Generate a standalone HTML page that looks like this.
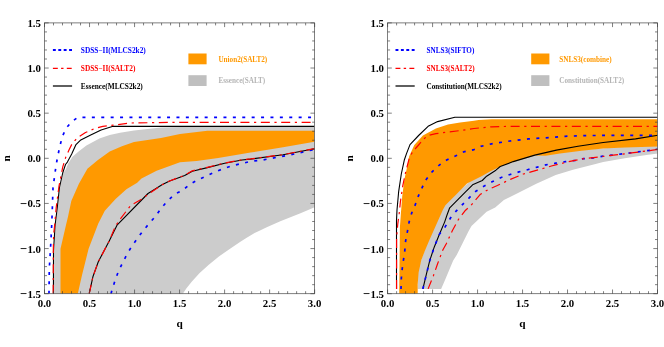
<!DOCTYPE html>
<html><head><meta charset="utf-8"><title>plot</title>
<style>html,body{margin:0;padding:0;background:#fff;}body{width:664px;height:347px;position:relative;overflow:hidden;}</style>
</head><body>
<svg width="664" height="347" viewBox="0 0 664 347" style="position:absolute;left:0;top:0;will-change:transform;font-family:'Liberation Serif',serif;font-weight:bold;">
<clipPath id="cl"><rect x="44.5" y="22.9" width="270.15" height="270.8"/></clipPath>
<clipPath id="cr"><rect x="387.6" y="22.9" width="269.9" height="270.8"/></clipPath>
<g clip-path="url(#cl)">
<path d="M54.0,293.7 L54.1,251.0 L55.7,225.0 L57.9,207.5 L60.0,188.0 L63.3,173.0 L65.6,169.7 L68.2,163.6 L72.5,156.7 L78.6,151.5 L86.4,145.5 L99.4,138.5 L109.7,135.1 L120.1,132.8 L134.0,130.4 L161.0,127.6 L180.0,127.0 L314.5,127.0 L314.6,207.3 L300.5,213.3 L280.3,221.3 L266.2,227.4 L260.0,230.4 L254.6,233.0 L245.9,238.2 L240.0,242.1 L233.0,246.8 L227.5,250.4 L218.9,256.5 L208.5,264.9 L199.4,273.3 L191.7,281.7 L186.5,288.2 L182.8,293.7Z" fill="#cccccc"/>
<path d="M60.5,293.7 L60.5,248.8 L66.0,225.0 L68.1,216.2 L71.3,201.0 L78.9,183.8 L87.4,168.7 L97.6,160.2 L109.7,151.5 L121.9,146.3 L134.0,142.0 L161.0,138.0 L180.0,133.9 L207.4,130.7 L314.5,130.7 L314.5,141.8 L283.0,147.2 L250.6,152.6 L218.2,158.0 L196.6,161.0 L180.0,162.2 L156.6,170.8 L141.5,178.4 L137.2,182.7 L126.4,189.2 L115.6,198.9 L104.8,210.8 L98.3,223.5 L88.6,248.8 L82.1,274.7 L77.8,293.7Z" fill="#ff9900"/>
<path d="M49.0,293.7 L49.3,268.2 L50.4,251.0 L51.4,231.3 L51.9,220.5 L52.5,203.2 L53.0,188.0 L54.7,175.1 L56.1,165.4 L57.8,155.8 L59.9,146.3 L62.2,136.8 L66.1,128.2 L71.7,121.8 L77.7,117.4 L314.5,117.4" fill="none" stroke="#0000ff" stroke-width="1.7" stroke-dasharray="3 6.4" stroke-linejoin="round"/>
<path d="M111.0,293.7 L112.4,288.7 L115.6,279.0 L118.8,270.4 L123.2,261.7 L127.5,253.1 L132.4,245.5 L137.6,238.0 L143.2,230.6 L149.0,223.7 L155.6,216.2 L161.0,208.6 L167.4,201.0 L175.0,194.0 L182.6,190.2 L190.1,184.2 L197.7,179.9 L207.4,175.6 L215.0,171.9 L223.6,168.6 L233.3,165.4 L242.0,163.5 L251.7,161.0 L261.4,160.2 L278.7,157.0 L296.0,153.7 L314.5,149.4" fill="none" stroke="#0000ff" stroke-width="1.7" stroke-dasharray="3 6.4" stroke-linejoin="round"/>
<path d="M53.4,293.7 L53.5,251.0 L55.1,225.0 L57.3,207.5 L59.4,188.0 L62.7,173.0 L65.5,164.5 L67.4,162.1 L71.7,154.1 L76.0,144.6 L80.3,140.3 L90.7,135.1 L101.1,129.9 L112.3,126.4 L314.5,126.4" fill="none" stroke="#000" stroke-width="1.1" stroke-linejoin="round"/>
<path d="M89.2,293.7 L92.9,276.8 L98.3,261.7 L109.1,241.2 L117.0,225.2 L148.0,193.5 L162.0,184.8 L169.6,181.0 L180.0,177.3 L184.7,175.6 L192.3,171.2 L207.4,167.6 L224.7,163.2 L242.0,160.0 L250.6,159.1 L283.0,154.8 L314.5,148.8" fill="none" stroke="#000" stroke-width="1.1" stroke-linejoin="round"/>
<path d="M53.2,293.7 L53.3,251.0 L53.6,234.5 L54.7,224.8 L56.2,207.5 L59.0,186.0 L61.6,173.0 L62.7,167.1 L65.6,157.6 L69.1,149.8 L72.5,142.9 L77.7,137.7 L85.5,132.5 L94.2,128.7 L102.8,126.4 L113.2,125.2 L130.5,123.0 L178.0,122.3 L314.5,122.3" fill="none" stroke="#ff0000" stroke-width="1.2" stroke-dasharray="9 4.6 2.2 4.6" stroke-linejoin="round"/>
<path d="M89.2,293.7 L92.9,276.8 L98.3,261.7 L109.1,241.2 L115.6,225.9 L120.0,219.4 L130.7,205.4 L141.5,199.3 L148.0,194.5 L162.0,184.8 L169.6,181.0 L180.0,176.9 L184.7,175.2 L192.3,170.8 L207.4,167.3 L224.7,163.0 L242.0,159.8 L250.6,158.9 L283.0,154.6 L314.5,148.6" fill="none" stroke="#ff0000" stroke-width="1.2" stroke-dasharray="9 4.6 2.2 4.6" stroke-linejoin="round"/>
</g>
<g clip-path="url(#cr)">
<path d="M417.7,288.9 L417.7,270.0 L430.0,235.0 L445.0,203.0 L474.0,178.0 L500.0,164.0 L545.0,153.0 L657.9,144.0 L657.9,153.6 L646.4,155.1 L624.8,158.3 L603.2,161.9 L594.6,164.3 L573.0,169.7 L555.7,175.1 L536.3,183.8 L519.0,192.4 L503.9,200.0 L495.2,207.5 L486.6,211.8 L471.5,225.9 L468.8,230.8 L462.7,242.9 L456.7,255.0 L453.2,260.4 L448.9,270.8 L444.6,281.1 L441.1,288.9 L417.7,288.9Z" fill="#cccccc"/>
<path d="M399.2,293.7 L399.9,227.3 L401.0,212.0 L402.2,196.5 L404.4,179.2 L407.4,165.4 L409.1,156.6 L414.3,145.0 L422.9,135.5 L435.9,128.5 L448.0,124.6 L460.1,122.5 L474.0,120.8 L478.6,120.1 L491.6,119.3 L657.9,119.3 L657.9,146.4 L624.8,147.5 L603.2,148.6 L581.6,150.8 L560.0,153.6 L545.6,155.7 L534.8,155.6 L513.2,161.9 L500.2,166.5 L490.0,171.5 L482.0,176.0 L474.0,180.1 L467.0,183.5 L456.7,193.9 L445.4,205.2 L442.8,210.0 L435.9,225.6 L429.0,241.1 L425.2,250.0 L421.2,260.4 L418.6,272.5 L417.7,284.6 L417.7,293.7Z" fill="#ff9900"/>
<path d="M396.5,288.9 L396.5,220.4 L397.0,210.0 L398.7,191.3 L401.3,174.0 L404.4,159.7 L406.5,153.6 L410.0,144.6 L418.6,135.5 L428.1,126.3 L437.6,121.6 L454.9,117.3 L657.9,117.3" fill="none" stroke="#000" stroke-width="1.1" stroke-linejoin="round"/>
<path d="M422.9,288.9 L426.4,274.2 L429.8,260.4 L434.2,247.2 L439.4,234.2 L444.6,222.1 L447.1,214.7 L449.7,207.8 L465.3,192.2 L472.6,184.8 L482.3,180.5 L486.6,176.2 L495.9,170.2 L500.2,166.5 L513.2,161.6 L534.8,155.1 L556.4,150.1 L578.0,146.2 L603.2,142.5 L635.6,138.9 L657.9,135.2" fill="none" stroke="#000" stroke-width="1.1" stroke-linejoin="round"/>
<path d="M401.0,288.9 L401.3,278.5 L402.2,269.0 L403.4,260.4 L404.8,250.7 L405.6,241.1 L407.4,231.6 L409.1,222.1 L411.7,213.0 L415.1,205.2 L418.3,196.2 L422.4,187.0 L426.4,179.2 L432.1,171.8 L439.4,165.0 L447.1,159.8 L455.8,155.8 L463.6,151.9 L474.0,149.6 L480.8,146.4 L491.6,143.8 L510.0,141.0 L528.3,138.9 L545.6,137.8 L565.0,136.3 L586.6,135.6 L610.0,135.3 L657.9,135.3" fill="none" stroke="#0000ff" stroke-width="1.7" stroke-dasharray="3 6.4" stroke-linejoin="round"/>
<path d="M422.9,288.9 L426.4,274.2 L429.8,260.4 L434.2,247.2 L439.4,234.2 L445.4,226.4 L450.6,217.8 L456.3,210.9 L462.7,204.3 L469.4,197.6 L475.8,191.3 L484.4,185.9 L492.6,181.6 L500.6,177.7 L509.3,174.7 L519.0,171.9 L527.6,169.7 L537.4,167.1 L546.0,164.8 L555.7,163.2 L565.4,161.7 L575.2,160.4 L583.4,158.7 L593.1,157.9 L603.2,156.2 L624.8,153.6 L646.4,150.8 L657.9,149.2" fill="none" stroke="#0000ff" stroke-width="1.7" stroke-dasharray="3 6.4" stroke-linejoin="round"/>
<path d="M396.6,288.9 L396.6,237.7 L397.8,223.8 L399.2,213.5 L400.4,201.7 L402.7,186.1 L405.6,172.3 L409.1,158.8 L412.5,151.9 L418.6,145.0 L423.8,138.9 L428.1,135.5 L435.9,133.7 L448.0,132.0 L460.1,130.6 L474.0,128.5 L491.6,126.8 L513.2,126.3 L657.9,126.3" fill="none" stroke="#ff0000" stroke-width="1.2" stroke-dasharray="9 4.6 2.2 4.6" stroke-linejoin="round"/>
<path d="M428.1,288.9 L433.3,276.0 L437.6,263.8 L442.8,250.0 L446.3,243.7 L452.3,230.8 L458.4,219.5 L465.0,210.8 L471.5,204.8 L480.1,194.6 L488.8,189.2 L497.4,185.5 L510.4,179.4 L523.3,174.0 L536.3,170.4 L551.4,166.0 L566.5,162.2 L581.6,158.9 L603.2,156.4 L624.8,153.8 L646.4,151.0 L657.9,149.4" fill="none" stroke="#ff0000" stroke-width="1.2" stroke-dasharray="9 4.6 2.2 4.6" stroke-linejoin="round"/>
</g>
<rect x="44.5" y="22.9" width="270.1" height="270.8" fill="none" stroke="#555" stroke-width="0.75"/>
<path d="M44.50,293.7v-4.2 M44.50,22.9v4.2 M44.5,22.90h4.2 M314.65,22.90h-4.2 M53.50,293.7v-2.5 M53.50,22.9v2.5 M44.5,31.93h2.5 M314.65,31.93h-2.5 M62.51,293.7v-2.5 M62.51,22.9v2.5 M44.5,40.95h2.5 M314.65,40.95h-2.5 M71.52,293.7v-2.5 M71.52,22.9v2.5 M44.5,49.98h2.5 M314.65,49.98h-2.5 M80.52,293.7v-2.5 M80.52,22.9v2.5 M44.5,59.01h2.5 M314.65,59.01h-2.5 M89.52,293.7v-4.2 M89.52,22.9v4.2 M44.5,68.03h4.2 M314.65,68.03h-4.2 M98.53,293.7v-2.5 M98.53,22.9v2.5 M44.5,77.06h2.5 M314.65,77.06h-2.5 M107.53,293.7v-2.5 M107.53,22.9v2.5 M44.5,86.09h2.5 M314.65,86.09h-2.5 M116.54,293.7v-2.5 M116.54,22.9v2.5 M44.5,95.11h2.5 M314.65,95.11h-2.5 M125.54,293.7v-2.5 M125.54,22.9v2.5 M44.5,104.14h2.5 M314.65,104.14h-2.5 M134.55,293.7v-4.2 M134.55,22.9v4.2 M44.5,113.17h4.2 M314.65,113.17h-4.2 M143.56,293.7v-2.5 M143.56,22.9v2.5 M44.5,122.19h2.5 M314.65,122.19h-2.5 M152.56,293.7v-2.5 M152.56,22.9v2.5 M44.5,131.22h2.5 M314.65,131.22h-2.5 M161.56,293.7v-2.5 M161.56,22.9v2.5 M44.5,140.25h2.5 M314.65,140.25h-2.5 M170.57,293.7v-2.5 M170.57,22.9v2.5 M44.5,149.27h2.5 M314.65,149.27h-2.5 M179.57,293.7v-4.2 M179.57,22.9v4.2 M44.5,158.30h4.2 M314.65,158.30h-4.2 M188.58,293.7v-2.5 M188.58,22.9v2.5 M44.5,167.33h2.5 M314.65,167.33h-2.5 M197.58,293.7v-2.5 M197.58,22.9v2.5 M44.5,176.35h2.5 M314.65,176.35h-2.5 M206.59,293.7v-2.5 M206.59,22.9v2.5 M44.5,185.38h2.5 M314.65,185.38h-2.5 M215.59,293.7v-2.5 M215.59,22.9v2.5 M44.5,194.41h2.5 M314.65,194.41h-2.5 M224.60,293.7v-4.2 M224.60,22.9v4.2 M44.5,203.43h4.2 M314.65,203.43h-4.2 M233.60,293.7v-2.5 M233.60,22.9v2.5 M44.5,212.46h2.5 M314.65,212.46h-2.5 M242.61,293.7v-2.5 M242.61,22.9v2.5 M44.5,221.49h2.5 M314.65,221.49h-2.5 M251.61,293.7v-2.5 M251.61,22.9v2.5 M44.5,230.51h2.5 M314.65,230.51h-2.5 M260.62,293.7v-2.5 M260.62,22.9v2.5 M44.5,239.54h2.5 M314.65,239.54h-2.5 M269.62,293.7v-4.2 M269.62,22.9v4.2 M44.5,248.57h4.2 M314.65,248.57h-4.2 M278.63,293.7v-2.5 M278.63,22.9v2.5 M44.5,257.59h2.5 M314.65,257.59h-2.5 M287.63,293.7v-2.5 M287.63,22.9v2.5 M44.5,266.62h2.5 M314.65,266.62h-2.5 M296.64,293.7v-2.5 M296.64,22.9v2.5 M44.5,275.65h2.5 M314.65,275.65h-2.5 M305.64,293.7v-2.5 M305.64,22.9v2.5 M44.5,284.67h2.5 M314.65,284.67h-2.5 M314.65,293.7v-4.2 M314.65,22.9v4.2 M44.5,293.70h4.2 M314.65,293.70h-4.2" stroke="#3a3a3a" stroke-width="0.65" fill="none"/>
<g font-size="10.8px" fill="#000"><text x="44.5" y="306.9" text-anchor="middle">0.0</text>
<text x="89.5" y="306.9" text-anchor="middle">0.5</text>
<text x="134.6" y="306.9" text-anchor="middle">1.0</text>
<text x="179.6" y="306.9" text-anchor="middle">1.5</text>
<text x="224.6" y="306.9" text-anchor="middle">2.0</text>
<text x="269.6" y="306.9" text-anchor="middle">2.5</text>
<text x="314.6" y="306.9" text-anchor="middle">3.0</text>
<text x="40.9" y="26.8" text-anchor="end">1.5</text>
<text x="40.9" y="71.9" text-anchor="end">1.0</text>
<text x="40.9" y="117.1" text-anchor="end">0.5</text>
<text x="40.9" y="162.2" text-anchor="end">0.0</text>
<text x="40.9" y="207.3" text-anchor="end"><tspan font-size="12.6px" dy="0.3">−</tspan><tspan dx="0.5" dy="-0.3">0.5</tspan></text>
<text x="40.9" y="252.5" text-anchor="end"><tspan font-size="12.6px" dy="0.3">−</tspan><tspan dx="0.5" dy="-0.3">1.0</tspan></text>
<text x="40.9" y="297.6" text-anchor="end"><tspan font-size="12.6px" dy="0.3">−</tspan><tspan dx="0.5" dy="-0.3">1.5</tspan></text></g>
<text x="179.6" y="326.5" font-size="11.3px" text-anchor="middle">q</text>
<text transform="translate(10.2,158.3) rotate(-90)" font-size="11.3px" text-anchor="middle">n</text>
<rect x="387.6" y="22.9" width="269.9" height="270.8" fill="none" stroke="#555" stroke-width="0.75"/>
<path d="M387.60,293.7v-4.2 M387.60,22.9v4.2 M387.6,22.90h4.2 M657.5,22.90h-4.2 M396.60,293.7v-2.5 M396.60,22.9v2.5 M387.6,31.93h2.5 M657.5,31.93h-2.5 M405.59,293.7v-2.5 M405.59,22.9v2.5 M387.6,40.95h2.5 M657.5,40.95h-2.5 M414.59,293.7v-2.5 M414.59,22.9v2.5 M387.6,49.98h2.5 M657.5,49.98h-2.5 M423.59,293.7v-2.5 M423.59,22.9v2.5 M387.6,59.01h2.5 M657.5,59.01h-2.5 M432.58,293.7v-4.2 M432.58,22.9v4.2 M387.6,68.03h4.2 M657.5,68.03h-4.2 M441.58,293.7v-2.5 M441.58,22.9v2.5 M387.6,77.06h2.5 M657.5,77.06h-2.5 M450.58,293.7v-2.5 M450.58,22.9v2.5 M387.6,86.09h2.5 M657.5,86.09h-2.5 M459.57,293.7v-2.5 M459.57,22.9v2.5 M387.6,95.11h2.5 M657.5,95.11h-2.5 M468.57,293.7v-2.5 M468.57,22.9v2.5 M387.6,104.14h2.5 M657.5,104.14h-2.5 M477.57,293.7v-4.2 M477.57,22.9v4.2 M387.6,113.17h4.2 M657.5,113.17h-4.2 M486.56,293.7v-2.5 M486.56,22.9v2.5 M387.6,122.19h2.5 M657.5,122.19h-2.5 M495.56,293.7v-2.5 M495.56,22.9v2.5 M387.6,131.22h2.5 M657.5,131.22h-2.5 M504.56,293.7v-2.5 M504.56,22.9v2.5 M387.6,140.25h2.5 M657.5,140.25h-2.5 M513.55,293.7v-2.5 M513.55,22.9v2.5 M387.6,149.27h2.5 M657.5,149.27h-2.5 M522.55,293.7v-4.2 M522.55,22.9v4.2 M387.6,158.30h4.2 M657.5,158.30h-4.2 M531.55,293.7v-2.5 M531.55,22.9v2.5 M387.6,167.33h2.5 M657.5,167.33h-2.5 M540.54,293.7v-2.5 M540.54,22.9v2.5 M387.6,176.35h2.5 M657.5,176.35h-2.5 M549.54,293.7v-2.5 M549.54,22.9v2.5 M387.6,185.38h2.5 M657.5,185.38h-2.5 M558.54,293.7v-2.5 M558.54,22.9v2.5 M387.6,194.41h2.5 M657.5,194.41h-2.5 M567.53,293.7v-4.2 M567.53,22.9v4.2 M387.6,203.43h4.2 M657.5,203.43h-4.2 M576.53,293.7v-2.5 M576.53,22.9v2.5 M387.6,212.46h2.5 M657.5,212.46h-2.5 M585.53,293.7v-2.5 M585.53,22.9v2.5 M387.6,221.49h2.5 M657.5,221.49h-2.5 M594.52,293.7v-2.5 M594.52,22.9v2.5 M387.6,230.51h2.5 M657.5,230.51h-2.5 M603.52,293.7v-2.5 M603.52,22.9v2.5 M387.6,239.54h2.5 M657.5,239.54h-2.5 M612.52,293.7v-4.2 M612.52,22.9v4.2 M387.6,248.57h4.2 M657.5,248.57h-4.2 M621.51,293.7v-2.5 M621.51,22.9v2.5 M387.6,257.59h2.5 M657.5,257.59h-2.5 M630.51,293.7v-2.5 M630.51,22.9v2.5 M387.6,266.62h2.5 M657.5,266.62h-2.5 M639.51,293.7v-2.5 M639.51,22.9v2.5 M387.6,275.65h2.5 M657.5,275.65h-2.5 M648.50,293.7v-2.5 M648.50,22.9v2.5 M387.6,284.67h2.5 M657.5,284.67h-2.5 M657.50,293.7v-4.2 M657.50,22.9v4.2 M387.6,293.70h4.2 M657.5,293.70h-4.2" stroke="#3a3a3a" stroke-width="0.65" fill="none"/>
<g font-size="10.8px" fill="#000"><text x="387.6" y="306.9" text-anchor="middle">0.0</text>
<text x="432.6" y="306.9" text-anchor="middle">0.5</text>
<text x="477.6" y="306.9" text-anchor="middle">1.0</text>
<text x="522.5" y="306.9" text-anchor="middle">1.5</text>
<text x="567.5" y="306.9" text-anchor="middle">2.0</text>
<text x="612.5" y="306.9" text-anchor="middle">2.5</text>
<text x="657.5" y="306.9" text-anchor="middle">3.0</text>
<text x="384.0" y="26.8" text-anchor="end">1.5</text>
<text x="384.0" y="71.9" text-anchor="end">1.0</text>
<text x="384.0" y="117.1" text-anchor="end">0.5</text>
<text x="384.0" y="162.2" text-anchor="end">0.0</text>
<text x="384.0" y="207.3" text-anchor="end"><tspan font-size="12.6px" dy="0.3">−</tspan><tspan dx="0.5" dy="-0.3">0.5</tspan></text>
<text x="384.0" y="252.5" text-anchor="end"><tspan font-size="12.6px" dy="0.3">−</tspan><tspan dx="0.5" dy="-0.3">1.0</tspan></text>
<text x="384.0" y="297.6" text-anchor="end"><tspan font-size="12.6px" dy="0.3">−</tspan><tspan dx="0.5" dy="-0.3">1.5</tspan></text></g>
<text x="522.5" y="326.5" font-size="11.3px" text-anchor="middle">q</text>
<text transform="translate(353.3,158.3) rotate(-90)" font-size="11.3px" text-anchor="middle">n</text>
<path d="M52.9,50h19.3" stroke="#0000ff" stroke-width="1.9" stroke-dasharray="2.9 2.5" fill="none"/>
<path d="M52.9,68.3h19.3" stroke="#ff0000" stroke-width="1.2" stroke-dasharray="4.9 3.3 2.4 3.3" fill="none"/>
<path d="M52.9,86h19.2" stroke="#2a2a2a" stroke-width="1.5" fill="none"/>
<g font-size="7.35px"><text x="80.8" y="53" fill="#0000ff">SDSS−II(MLCS2k2)</text><text x="80.8" y="71" fill="#ff0000">SDSS−II(SALT2)</text><text x="80.8" y="89" fill="#000">Essence(MLCS2k2)</text>
<text x="218.4" y="62" fill="#ff9900" font-size="7.2px">Union2(SALT2)</text><text x="218.4" y="83" fill="#b4b4b4" font-size="7.2px">Essence(SALT)</text></g>
<rect x="188.4" y="53.5" width="18.2" height="10.8" fill="#ff9900"/><rect x="188.4" y="75.2" width="18.2" height="10.8" fill="#bfbfbf"/>
<path d="M395.5,50h19.3" stroke="#0000ff" stroke-width="1.9" stroke-dasharray="2.9 2.5" fill="none"/>
<path d="M395.5,68.3h19.3" stroke="#ff0000" stroke-width="1.2" stroke-dasharray="4.9 3.3 2.4 3.3" fill="none"/>
<path d="M395.5,86h19.2" stroke="#2a2a2a" stroke-width="1.5" fill="none"/>
<g font-size="7.2px"><text x="426.5" y="53" fill="#0000ff">SNLS3(SIFTO)</text><text x="426.5" y="71" fill="#ff0000">SNLS3(SALT2)</text><text x="426.5" y="89" fill="#000">Constitution(MLCS2k2)</text>
<text x="559.3" y="62" fill="#ff9900" font-size="7.2px">SNLS3(combine)</text><text x="559.3" y="83" fill="#b4b4b4" font-size="7.2px">Constitution(SALT2)</text></g>
<rect x="531.2" y="53.5" width="18.2" height="10.8" fill="#ff9900"/><rect x="531.2" y="75.2" width="18.2" height="10.8" fill="#bfbfbf"/>
</svg>
</body></html>
